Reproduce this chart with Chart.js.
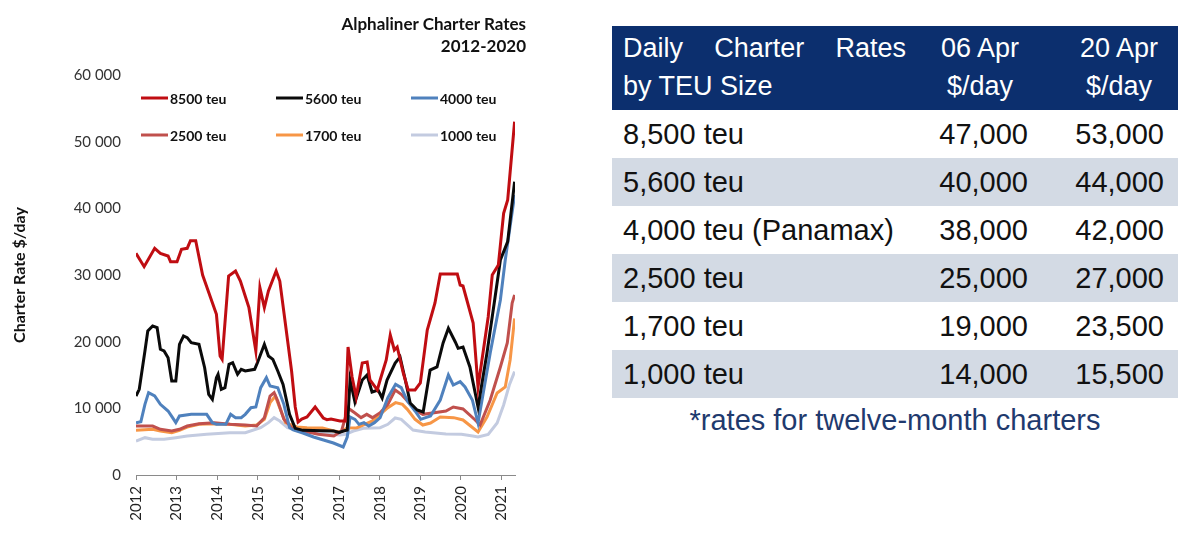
<!DOCTYPE html>
<html>
<head>
<meta charset="utf-8">
<script src="https://cdn.jsdelivr.net/npm/chart.js@4.4.1/dist/chart.umd.min.js"></script>
<style>
  html, body { margin: 0; padding: 0; background: #fff; }
  body { width: 1200px; height: 540px; position: relative; overflow: hidden; font-family: 'Liberation Sans', Arial, sans-serif; }
  #chartBox { position: absolute; left: 0; top: 0; width: 600px; height: 540px; }
  .ctitle { position: absolute; right: 674px; font-family: Lato, sans-serif; font-weight: bold; font-size: 17px; line-height: 20px; color: #111; white-space: nowrap; }
  table.rates { position: absolute; left: 612px; top: 26px; width: 566px; border-collapse: collapse; table-layout: fixed; }
  table.rates th { background: #0c2f6e; color: #fff; font-weight: normal; font-size: 27px; line-height: 38px; height: 81px; padding: 3px 0 0 0; vertical-align: top; }
  table.rates td { font-size: 29px; color: #111; height: 48px; padding: 0; vertical-align: middle; }
  table.rates tr.alt td { background: #d3dae4; }
  .c1 { padding-left: 11px !important; padding-right: 16px !important; text-align: left; }
  .c2 { text-align: right; padding-right: 10px !important; }
  .c3 { text-align: right; padding-right: 14px !important; }
  th.c2 { text-align: center; padding-right: 0 !important; }
  th.c3 { text-align: center; padding-left: 22px !important; padding-right: 0 !important; }
  .just { text-align: justify; text-align-last: justify; }
  .note { position: absolute; left: 612px; top: 402px; width: 566px; text-align: center; font-size: 29px; line-height: 36px; color: #1f3a6e; }
</style>
</head>
<body>
<div id="chartBox"><canvas id="lineChart"></canvas></div>
<div class="ctitle" style="top:14px;">Alphaliner Charter Rates</div>
<div class="ctitle" style="top:36px;">2012-2020</div>

<table class="rates">
  <colgroup><col style="width:310px"><col style="width:116px"><col style="width:140px"></colgroup>
  <thead>
    <tr>
      <th class="c1"><div class="just">Daily Charter Rates</div><div style="text-align:left">by TEU Size</div></th>
      <th class="c2">06 Apr<br>$/day</th>
      <th class="c3">20 Apr<br>$/day</th>
    </tr>
  </thead>
  <tbody id="rateRows"></tbody>
</table>
<div class="note">*rates for twelve-month charters</div>

<script>
// series: [decimal year, $/day]
const teu8500 = [
  [2012.00, 33250], [2012.20, 31250], [2012.46, 34000], [2012.60, 33250], [2012.79, 32850],
  [2012.85, 32000], [2013.01, 32000], [2013.12, 33850], [2013.26, 34000], [2013.34, 35150],
  [2013.47, 35150], [2013.64, 30000], [2013.88, 25850], [2013.98, 24100], [2014.07, 17850],
  [2014.12, 17350], [2014.28, 29850], [2014.45, 30600], [2014.57, 29100], [2014.78, 25100],
  [2014.95, 18600], [2015.05, 28100], [2015.16, 25100], [2015.26, 27600], [2015.45, 30600],
  [2015.54, 29100], [2015.83, 15600], [2015.92, 10200], [2015.99, 7950], [2016.08, 8400],
  [2016.21, 8700], [2016.41, 10200], [2016.61, 8550], [2016.70, 8300], [2016.80, 8400],
  [2017.02, 8100], [2017.15, 8100], [2017.22, 19200], [2017.32, 14700], [2017.42, 11700],
  [2017.57, 16800], [2017.69, 16950], [2017.76, 14250], [2017.94, 12750], [2018.01, 14250],
  [2018.16, 17250], [2018.26, 21000], [2018.36, 18750], [2018.43, 19200], [2018.58, 15300],
  [2018.70, 12750], [2018.87, 12750], [2019.00, 13800], [2019.17, 21750], [2019.29, 24300],
  [2019.36, 25800], [2019.49, 30150], [2019.91, 30150], [2019.98, 28500], [2020.05, 28350],
  [2020.30, 22800], [2020.42, 13200], [2020.67, 23700], [2020.77, 30000], [2020.92, 31500],
  [2021.05, 39250], [2021.15, 41250], [2021.32, 53000]
];
const teu5600 = [
  [2012.00, 11850], [2012.08, 12850], [2012.22, 18600], [2012.29, 21600], [2012.41, 22350],
  [2012.52, 22100], [2012.60, 18850], [2012.69, 18600], [2012.79, 17600], [2012.88, 14100],
  [2012.98, 14100], [2013.07, 19600], [2013.17, 20850], [2013.26, 20600], [2013.36, 19850],
  [2013.55, 19600], [2013.69, 16100], [2013.79, 12100], [2013.88, 11350], [2013.98, 14600],
  [2014.02, 15100], [2014.10, 12850], [2014.19, 13100], [2014.29, 16600], [2014.38, 16850],
  [2014.50, 15100], [2014.59, 15850], [2014.69, 15600], [2014.92, 15850], [2014.99, 16850],
  [2015.16, 19600], [2015.26, 17850], [2015.37, 17350], [2015.49, 15600], [2015.62, 13600],
  [2015.78, 9100], [2015.92, 7000], [2016.11, 6700], [2016.87, 6600], [2017.00, 6400],
  [2017.11, 6600], [2017.20, 6750], [2017.27, 14250], [2017.39, 10950], [2017.57, 14250],
  [2017.69, 15000], [2017.81, 12450], [2017.96, 12750], [2018.06, 11550], [2018.18, 14250],
  [2018.38, 16800], [2018.50, 17700], [2018.63, 14250], [2018.75, 10800], [2018.92, 9750],
  [2019.07, 9450], [2019.24, 15750], [2019.41, 16200], [2019.56, 19800], [2019.69, 22000],
  [2019.86, 19950], [2019.93, 19000], [2020.05, 19200], [2020.22, 16200], [2020.42, 10200],
  [2020.64, 18300], [2020.84, 26700], [2020.97, 32250], [2021.15, 35000], [2021.32, 44000]
];
const teu4000 = [
  [2012.00, 7850], [2012.12, 8000], [2012.22, 10600], [2012.31, 12350], [2012.46, 11850],
  [2012.60, 10600], [2012.79, 9600], [2012.90, 8600], [2012.98, 7850], [2013.07, 8850],
  [2013.36, 9100], [2013.74, 9100], [2013.88, 7850], [2013.98, 7600], [2014.21, 7600],
  [2014.33, 9100], [2014.45, 8600], [2014.59, 8600], [2014.69, 9100], [2014.83, 10100],
  [2014.95, 10200], [2015.07, 13100], [2015.21, 14600], [2015.30, 13350], [2015.49, 13100],
  [2015.64, 10600], [2015.78, 7100], [2015.87, 6750], [2016.11, 6300], [2016.37, 5700],
  [2016.86, 4800], [2017.10, 4200], [2017.20, 5700], [2017.27, 8700], [2017.39, 8350],
  [2017.49, 7600], [2017.61, 7850], [2017.73, 7350], [2017.87, 7850], [2018.01, 8600],
  [2018.20, 11600], [2018.39, 13600], [2018.53, 13100], [2018.68, 11100], [2018.87, 9600],
  [2019.01, 8350], [2019.25, 8850], [2019.49, 11250], [2019.69, 15000], [2019.81, 13500],
  [2019.98, 14000], [2020.10, 13200], [2020.28, 11250], [2020.42, 7800], [2020.72, 18300],
  [2020.97, 26250], [2021.09, 32250], [2021.32, 42000]
];
const teu2500 = [
  [2012.00, 7350], [2012.41, 7350], [2012.60, 6850], [2012.88, 6600], [2013.07, 6850],
  [2013.26, 7350], [2013.55, 7700], [2013.93, 7850], [2014.31, 7600], [2014.69, 7500],
  [2014.97, 7350], [2015.16, 8600], [2015.30, 11850], [2015.40, 12350], [2015.49, 11100],
  [2015.64, 8350], [2015.83, 7100], [2016.11, 6600], [2016.49, 6100], [2016.87, 5850],
  [2017.06, 6600], [2017.22, 10050], [2017.39, 9300], [2017.54, 8600], [2017.68, 9100],
  [2017.82, 8600], [2018.01, 9350], [2018.20, 10600], [2018.38, 12750], [2018.53, 12100],
  [2018.72, 10850], [2018.91, 9600], [2019.06, 9100], [2019.34, 9350], [2019.63, 9600],
  [2019.81, 10200], [2020.05, 9900], [2020.35, 8250], [2020.47, 7500], [2020.72, 11250],
  [2020.97, 16200], [2021.14, 19800], [2021.26, 25800], [2021.32, 27000]
];
const teu1700 = [
  [2012.00, 6700], [2012.41, 6850], [2012.60, 6600], [2012.88, 6350], [2013.07, 6700],
  [2013.26, 7200], [2013.55, 7600], [2013.93, 7700], [2014.31, 7600], [2014.69, 7350],
  [2014.97, 7500], [2015.16, 8350], [2015.30, 10850], [2015.43, 11850], [2015.52, 10350],
  [2015.68, 7850], [2015.96, 7200], [2016.21, 7100], [2016.59, 7050], [2016.87, 6600],
  [2017.02, 6450], [2017.20, 7050], [2017.44, 7100], [2017.63, 7600], [2017.82, 8100],
  [2018.01, 9100], [2018.20, 10100], [2018.39, 10850], [2018.56, 10600], [2018.68, 9850],
  [2018.87, 8350], [2019.06, 7500], [2019.25, 7800], [2019.49, 8700], [2019.82, 8600],
  [2020.05, 8250], [2020.42, 6450], [2020.64, 8700], [2020.89, 12300], [2021.09, 13200],
  [2021.21, 17250], [2021.32, 23500]
];
const teu1000 = [
  [2012.00, 5100], [2012.22, 5600], [2012.41, 5350], [2012.69, 5350], [2012.98, 5600],
  [2013.26, 5850], [2013.74, 6100], [2014.31, 6350], [2014.69, 6350], [2015.07, 7100],
  [2015.26, 7850], [2015.40, 8600], [2015.54, 8100], [2015.73, 7100], [2016.02, 6600],
  [2016.40, 6350], [2016.78, 6100], [2017.02, 6000], [2017.16, 6100], [2017.35, 6600],
  [2017.60, 7000], [2018.01, 7100], [2018.20, 7600], [2018.38, 8550], [2018.53, 8350],
  [2018.82, 6750], [2019.12, 6450], [2019.63, 6150], [2020.01, 6100], [2020.29, 5850],
  [2020.42, 5700], [2020.67, 6100], [2020.89, 7800], [2021.05, 10500], [2021.19, 13500],
  [2021.32, 15500]
];

const seriesLabels = ['8500 teu', '5600 teu', '4000 teu', '2500 teu', '1700 teu', '1000 teu'];
const seriesColors = ['#c00d12', '#0a0a0a', '#4f81bd', '#c0504d', '#f79646', '#c3cbe0'];
const yearTicks = [2012, 2013, 2014, 2015, 2016, 2017, 2018, 2019, 2020, 2021];

// table on the right
const tableSizes = ['8,500 teu', '5,600 teu', '4,000 teu (Panamax)', '2,500 teu', '1,700 teu', '1,000 teu'];
const rates06Apr = ['47,000', '40,000', '38,000', '25,000', '19,000', '14,000'];
const rates20Apr = ['53,000', '44,000', '42,000', '27,000', '23,500', '15,500'];

const tbody = document.getElementById('rateRows');
tableSizes.forEach((s, i) => {
  const tr = document.createElement('tr');
  if (i % 2 === 1) tr.className = 'alt';
  tr.innerHTML = '<td class="c1">' + s + '</td><td class="c2">' + rates06Apr[i] + '</td><td class="c3">' + rates20Apr[i] + '</td>';
  tbody.appendChild(tr);
});

// legend drawn inside the plot, 3 columns x 2 rows
const insideLegend = {
  id: 'insideLegend',
  afterDraw(chart) {
    const ctx = chart.ctx;
    const cols = [141, 276, 411];
    const rows = [98, 135];
    chart.data.datasets.forEach((ds, i) => {
      const x = cols[i % 3];
      const y = rows[Math.floor(i / 3)];
      ctx.save();
      ctx.strokeStyle = ds.borderColor;
      ctx.lineWidth = 3;
      ctx.beginPath();
      ctx.moveTo(x, y);
      ctx.lineTo(x + 27, y);
      ctx.stroke();
      ctx.fillStyle = '#111';
      ctx.font = 'bold 14px Lato';
      ctx.textBaseline = 'middle';
      ctx.fillText(ds.label, x + 29, y + 1);
      ctx.restore();
    });
  }
};

const allSeries = [teu8500, teu5600, teu4000, teu2500, teu1700, teu1000];

new Chart(document.getElementById('lineChart').getContext('2d'), {
  type: 'line',
  data: {
    datasets: allSeries.map((s, i) => ({
      label: seriesLabels[i],
      data: s.map(p => ({ x: p[0], y: p[1] })),
      borderColor: seriesColors[i],
      borderWidth: 3,
      pointRadius: 0,
      tension: 0,
      fill: false
    }))
  },
  options: {
    responsive: true,
    maintainAspectRatio: false,
    animation: false,
    layout: { padding: { left: 0, top: 75, right: 85, bottom: 0 } },
    plugins: {
      legend: { display: false },
      tooltip: { enabled: false }
    },
    scales: {
      x: {
        type: 'linear',
        min: 2012,
        max: 2021.33,
        afterBuildTicks: axis => { axis.ticks = yearTicks.map(v => ({ value: v })); },
        afterFit: axis => { axis.height = 65; },
        ticks: {
          minRotation: 90,
          maxRotation: 90,
          padding: 6,
          color: '#222',
          font: { family: 'Lato', size: 15 },
          callback: v => String(v)
        },
        grid: { drawOnChartArea: false, drawTicks: true, tickLength: 5, color: '#8a8a8a' },
        border: { display: true, color: '#8a8a8a', width: 1 }
      },
      y: {
        min: 0,
        max: 60000,
        afterFit: axis => { axis.width = 136; },
        ticks: {
          stepSize: 10000,
          padding: 7,
          color: '#333',
          font: { family: 'Lato', size: 15 },
          callback: v => v.toLocaleString('en-US').replace(/,/g, ' ')
        },
        grid: { display: false },
        border: { display: false },
        title: {
          display: true,
          text: 'Charter Rate $/day',
          color: '#111',
          font: { family: 'Lato', size: 16, weight: 'bold' },
          padding: { top: 10, bottom: 0 }
        }
      }
    }
  },
  plugins: [insideLegend]
});
</script>
</body>
</html>
